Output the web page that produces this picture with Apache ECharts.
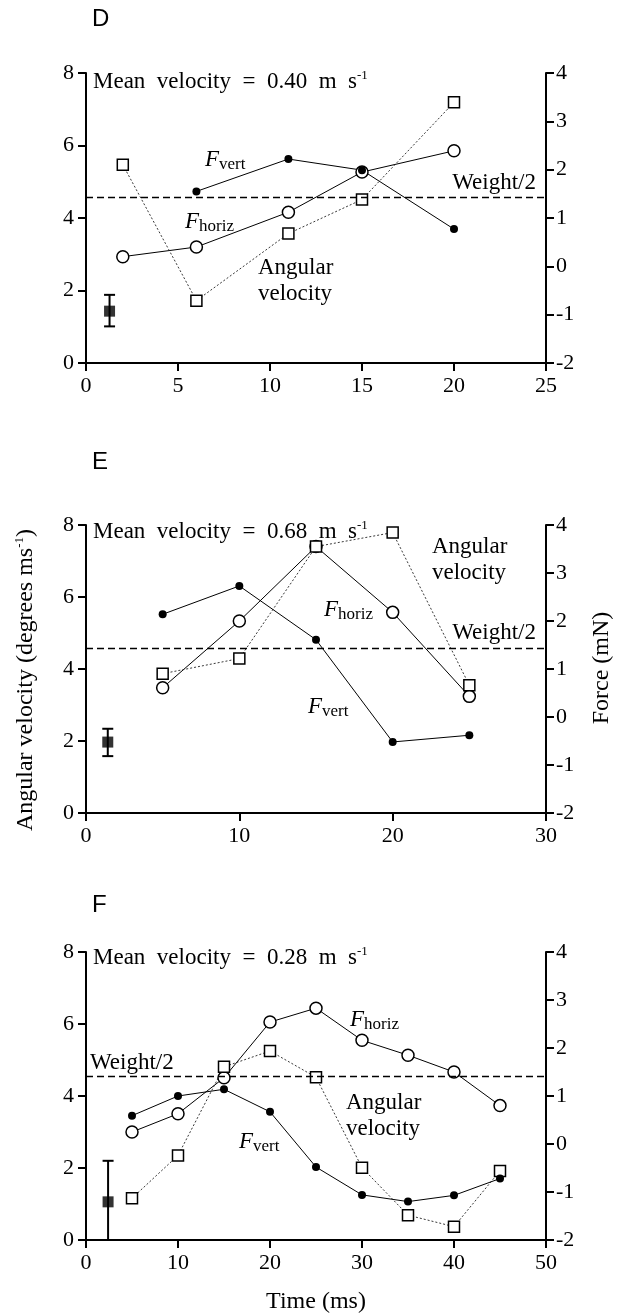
<!DOCTYPE html>
<html>
<head>
<meta charset="utf-8">
<script src="https://cdn.jsdelivr.net/npm/echarts@6/dist/echarts.min.js"></script>
<style>
  html, body { margin: 0; padding: 0; background: #fff; }
  #chart { width: 626px; height: 1315px; }
</style>
</head>
<body>
<div id="chart"></div>
<script>
// panel D
var dTime = [2, 6, 11, 15, 20];
var dAngular = [5.47, 1.72, 3.57, 4.51, 7.19];
var dFvertTime = [6, 11, 15, 20];
var dFvert = [1.55, 2.22, 1.99, 0.77];
var dFhoriz = [0.20, 0.40, 1.12, 1.95, 2.39];
var dMean = [1.28, 1.43, 1.01, 1.88];   // time, mean, low, high
var dWeight = 1.42;

// panel E
var eTime = [5, 10, 15, 20, 25];
var eAngular = [3.87, 4.29, 7.40, 7.79, 3.55];
var eFvert = [2.14, 2.73, 1.61, -0.52, -0.38];
var eFhoriz = [0.61, 2.00, 3.55, 2.18, 0.43];
var eMean = [1.42, 1.97, 1.58, 2.34];
var eWeight = 1.43;

// panel F
var fTime = [5, 10, 15, 20, 25, 30, 35, 40, 45];
var fAngular = [1.16, 2.35, 4.81, 5.25, 4.52, 2.01, 0.69, 0.37, 1.92];
var fFvert = [0.59, 1.00, 1.14, 0.67, -0.48, -1.06, -1.20, -1.07, -0.72];
var fFhoriz = [0.25, 0.63, 1.38, 2.54, 2.83, 2.16, 1.85, 1.50, 0.80];
var fMean = [2.4, 1.06, 0, 2.2];
var fWeight = 1.41;

var xMax = [25, 30, 50];
var xStep = [5, 10, 10];

var serif = 'Liberation Serif';
var sans = 'Liberation Sans';

function pairs(xs, ys) {
  var out = [];
  for (var i = 0; i < xs.length; i++) out.push([xs[i], ys[i]]);
  return out;
}

function errorBar(params, api) {
  var x = api.value(0);
  var top = api.coord([x, api.value(3)]);
  var bottom = api.coord([x, api.value(2)]);
  var cap = 5.5;
  var style = { stroke: '#000', lineWidth: 2 };
  var children = [
    { type: 'line', shape: { x1: top[0], y1: top[1], x2: bottom[0], y2: bottom[1] }, style: style },
    { type: 'line', shape: { x1: top[0] - cap, y1: top[1], x2: top[0] + cap, y2: top[1] }, style: style }
  ];
  if (api.value(2) > 0) {
    children.push({ type: 'line', shape: { x1: bottom[0] - cap, y1: bottom[1], x2: bottom[0] + cap, y2: bottom[1] }, style: style });
  }
  return { type: 'group', children: children };
}

var grids = [
  { left: 86, right: 80, top: 73, height: 290 },
  { left: 86, right: 80, top: 525, height: 288 },
  { left: 86, right: 80, top: 952, height: 288 }
];

var axisLine = { show: true, lineStyle: { color: '#000', width: 2 } };
var axisTick = { show: true, inside: false, length: 8, lineStyle: { color: '#000', width: 2 } };

var xAxes = [], yAxes = [];
for (var g = 0; g < 3; g++) {
  xAxes.push({
    type: 'value', gridIndex: g, min: 0, max: xMax[g], interval: xStep[g],
    axisLine: axisLine, axisTick: axisTick, splitLine: { show: false },
    axisLabel: { color: '#000', fontFamily: serif, fontSize: 22, margin: 12 },
    name: g === 2 ? 'Time (ms)' : '', nameLocation: 'middle', nameGap: 50,
    nameTextStyle: { color: '#000', fontFamily: serif, fontSize: 24 }
  });
  yAxes.push({
    type: 'value', gridIndex: g, position: 'left', min: 0, max: 8, interval: 2,
    axisLine: axisLine, axisTick: axisTick, splitLine: { show: false },
    axisLabel: { color: '#000', fontFamily: serif, fontSize: 22, margin: 12 }
  });
  yAxes.push({
    type: 'value', gridIndex: g, position: 'right', min: -2, max: 4, interval: 1,
    axisLine: axisLine, axisTick: axisTick, splitLine: { show: false },
    axisLabel: { color: '#000', fontFamily: serif, fontSize: 22, margin: 10 }
  });
}

var panels = [
  { at: dTime, ang: dAngular, vt: dFvertTime, fv: dFvert, fh: dFhoriz, mean: dMean, w: dWeight },
  { at: eTime, ang: eAngular, vt: eTime, fv: eFvert, fh: eFhoriz, mean: eMean, w: eWeight },
  { at: fTime, ang: fAngular, vt: fTime, fv: fFvert, fh: fFhoriz, mean: fMean, w: fWeight }
];

var series = [];
panels.forEach(function (p, g) {
  // weight/2 reference line on force axis
  series.push({
    type: 'line', xAxisIndex: g, yAxisIndex: 2 * g + 1, data: [], silent: true,
    markLine: {
      symbol: 'none', silent: true, label: { show: false },
      lineStyle: { color: '#000', type: [7, 4], width: 1.3 },
      data: [{ yAxis: p.w }]
    }
  });
  series.push({
    type: 'line', xAxisIndex: g, yAxisIndex: 2 * g + 1, data: pairs(p.at, p.fh),
    symbol: 'circle', symbolSize: 12,
    lineStyle: { color: '#000', width: 1 },
    itemStyle: { color: '#fff', borderColor: '#000', borderWidth: 1.5 }
  });
  series.push({
    type: 'line', xAxisIndex: g, yAxisIndex: 2 * g, data: pairs(p.at, p.ang),
    symbol: 'rect', symbolSize: 11,
    lineStyle: { color: '#222', width: 0.9, type: [2, 2] },
    itemStyle: { color: '#fff', borderColor: '#000', borderWidth: 1.5 }
  });
  series.push({
    type: 'line', xAxisIndex: g, yAxisIndex: 2 * g + 1, data: pairs(p.vt, p.fv),
    symbol: 'circle', symbolSize: 8,
    lineStyle: { color: '#000', width: 1 },
    itemStyle: { color: '#000' }
  });
  series.push({
    type: 'custom', xAxisIndex: g, yAxisIndex: 2 * g, renderItem: errorBar,
    data: [p.mean], z: 3
  });
  series.push({
    type: 'scatter', xAxisIndex: g, yAxisIndex: 2 * g, data: [[p.mean[0], p.mean[1]]],
    symbol: 'rect', symbolSize: 11, itemStyle: { color: '#000' }, z: 4
  });
});

var rich = {
  n: { fontFamily: serif, fontSize: 23, lineHeight: 26, color: '#000' },
  t: { fontFamily: serif, fontSize: 24, lineHeight: 26, color: '#000' },
  sup: { fontFamily: serif, fontSize: 13, lineHeight: 14, verticalAlign: 'top', color: '#000' },
  F: { fontFamily: serif, fontSize: 23, fontStyle: 'italic', lineHeight: 26, color: '#000' },
  sub: { fontFamily: serif, fontSize: 17, lineHeight: 17, verticalAlign: 'bottom', color: '#000' }
};

function txt(x, y, s, align) {
  return {
    type: 'text', x: x, y: y, z: 100,
    style: {
      text: s, rich: rich, fill: '#000', font: '23px ' + serif,
      align: align || 'left', textAlign: align || 'left',
      verticalAlign: 'middle', textVerticalAlign: 'middle', lineHeight: 26
    }
  };
}

function letter(x, y, s) {
  return {
    type: 'text', x: x, y: y,
    style: { text: s, fill: '#000', font: '24px ' + sans, align: 'left', textAlign: 'left', verticalAlign: 'middle', textVerticalAlign: 'middle' }
  };
}

var graphics = [
  letter(92, 19, 'D'), letter(92, 462, 'E'), letter(92, 905, 'F'),

  txt(93, 82, '{n|Mean  velocity  =  0.40  m  s}{sup|-1}'),
  txt(205, 160, '{F|F}{sub|vert}'),
  txt(185, 222, '{F|F}{sub|horiz}'),
  txt(258, 268, 'Angular'), txt(258, 294, 'velocity'),
  txt(536, 183, 'Weight/2', 'right'),

  txt(93, 532, '{n|Mean  velocity  =  0.68  m  s}{sup|-1}'),
  txt(432, 547, 'Angular'), txt(432, 573, 'velocity'),
  txt(324, 610, '{F|F}{sub|horiz}'),
  txt(536, 633, 'Weight/2', 'right'),
  txt(308, 707, '{F|F}{sub|vert}'),

  txt(93, 958, '{n|Mean  velocity  =  0.28  m  s}{sup|-1}'),
  txt(350, 1020, '{F|F}{sub|horiz}'),
  txt(90, 1063, 'Weight/2'),
  txt(346, 1103, 'Angular'), txt(346, 1129, 'velocity'),
  txt(239, 1142, '{F|F}{sub|vert}'),

  {
    type: 'text', x: 26, y: 680, rotation: Math.PI / 2,
    style: {
      text: '{t|Angular velocity (degrees ms}{sup|-1}{t|)}', rich: rich,
      align: 'center', textAlign: 'center', verticalAlign: 'middle', textVerticalAlign: 'middle'
    }
  },
  {
    type: 'text', x: 602, y: 668, rotation: Math.PI / 2,
    style: {
      text: 'Force (mN)', fill: '#000', font: '24px ' + serif,
      align: 'center', textAlign: 'center', verticalAlign: 'middle', textVerticalAlign: 'middle'
    }
  }
];

var chart = echarts.init(document.getElementById('chart'), null, { renderer: 'canvas' });
chart.setOption({
  animation: false,
  backgroundColor: '#fff',
  grid: grids,
  xAxis: xAxes,
  yAxis: yAxes,
  series: series,
  graphic: graphics
});
</script>
</body>
</html>
